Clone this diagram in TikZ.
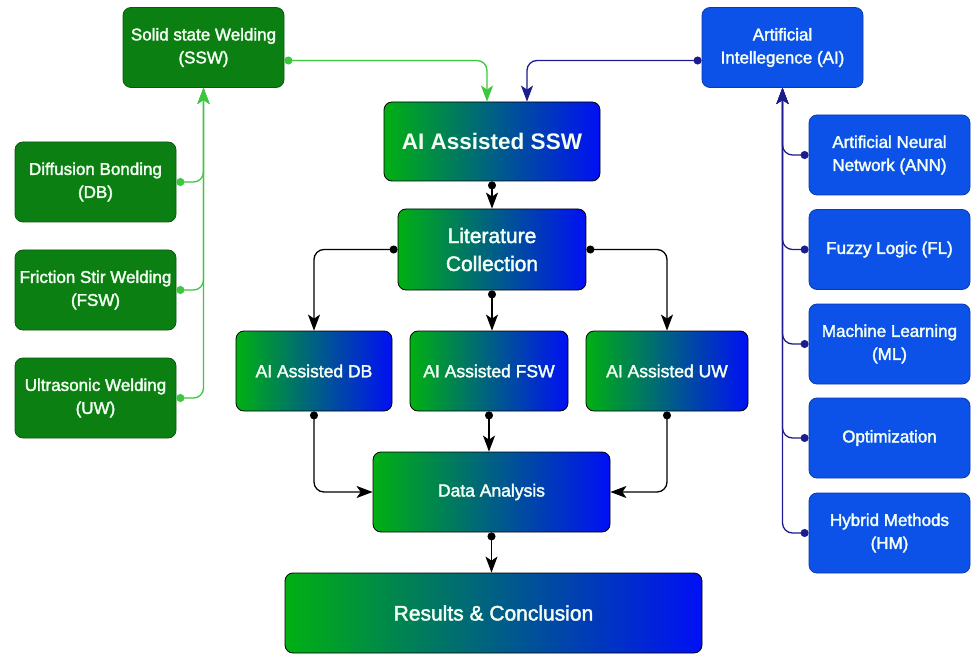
\documentclass[tikz,border=0pt]{standalone}
\usepackage{fontspec}
\setmainfont{Liberation Sans}
\newfontfamily\boxfont[FakeBold=2]{Liberation Sans}
\usetikzlibrary{arrows.meta,calc}
\definecolor{gfill}{HTML}{0C7F12}
\definecolor{gdraw}{HTML}{0A5A0E}
\definecolor{bfill}{HTML}{0D52E8}
\definecolor{bdraw}{HTML}{0A3BB0}
\definecolor{gradl}{HTML}{00B012}
\definecolor{gradr}{HTML}{0010F5}
\definecolor{gline}{HTML}{3CC83C}
\definecolor{nline}{HTML}{1C1C8C}
\definecolor{txt}{HTML}{F4FFF4}
\tikzset{
  base/.style={rounded corners=8pt, align=center, text=txt, inner sep=0pt, line width=0.8pt},
  gbox/.style={base, fill=gfill, draw=gdraw, minimum width=161pt, minimum height=80pt, font=\boxfont\fontsize{17}{23}\selectfont},
  bbox/.style={base, fill=bfill, draw=bdraw, minimum width=161pt, minimum height=80pt, font=\boxfont\fontsize{17}{23}\selectfont},
  gradbox/.style={base, left color=gradl, right color=gradr, draw=black, minimum height=80pt},
  conn/.style={line width=1.3pt, rounded corners=10pt, {Circle[length=8pt]}-{Stealth[length=16pt,width=12pt,inset=4pt]}},
  gconn/.style={conn, draw=gline},
  nconn/.style={conn, draw=nline},
  kconn/.style={conn, draw=black},
}
\begin{document}
\begin{tikzpicture}[x=1pt,y=-1pt]
\useasboundingbox[fill=white] (0,0) rectangle (972,655);
% left green
\node[gbox] (ssw) at (203.5,47.5) {Solid state Welding\\(SSW)};
\node[gbox] (db) at (95.5,182) {Diffusion Bonding\\(DB)};
\node[gbox] (fsw) at (95.5,290) {Friction Stir Welding\\(FSW)};
\node[gbox] (uw) at (95.5,398) {Ultrasonic Welding\\(UW)};
% right blue
\node[bbox] (ai) at (782.5,47.5) {Artificial\\Intellegence (AI)};
\node[bbox] (ann) at (889.5,155) {Artificial Neural\\Network (ANN)};
\node[bbox] (fl) at (889.5,249.5) {Fuzzy Logic (FL)};
\node[bbox] (ml) at (889.5,344) {Machine Learning\\(ML)};
\node[bbox] (opt) at (889.5,438) {Optimization};
\node[bbox] (hm) at (889.5,533) {Hybrid Methods\\(HM)};
% center
\node[gradbox, minimum width=216pt, minimum height=79pt, font=\bfseries\fontsize{22.5}{27}\selectfont] (aissw) at (492,141.5) {AI Assisted SSW};
\node[gradbox, minimum width=188pt, minimum height=81pt, font=\boxfont\fontsize{21}{28}\selectfont] (lit) at (492,249.5) {Literature\\Collection};
\node[gradbox, minimum width=156pt, font=\boxfont\fontsize{17.5}{21}\selectfont] (aidb) at (314,371) {AI Assisted DB};
\node[gradbox, minimum width=158pt, font=\boxfont\fontsize{17.5}{21}\selectfont] (aifsw) at (489,371) {AI Assisted FSW};
\node[gradbox, minimum width=162pt, font=\boxfont\fontsize{17.5}{21}\selectfont] (aiuw) at (667,371) {AI Assisted UW};
\node[gradbox, minimum width=237pt, font=\boxfont\fontsize{17.5}{21}\selectfont] (da) at (491.5,492) {Data Analysis};
\node[gradbox, minimum width=417pt, font=\boxfont\fontsize{21}{25}\selectfont] (res) at (493.5,613) {Results \& Conclusion};
% connectors
\draw[gconn] ([yshift=-13pt]ssw.east) -| ([xshift=-5pt]aissw.north);
\draw[nconn] ([yshift=-13pt]ai.west) -| ([xshift=35pt]aissw.north);
\foreach \n in {db,fsw,uw} \draw[gconn] (\n.east) -| (ssw.south);
\foreach \n in {ann,fl,ml,opt,hm} \draw[nconn] (\n.west) -| (ai.south);
\draw[kconn] (aissw.south) -- (lit.north);
\draw[kconn] (lit.west) -| (aidb.north);
\draw[kconn] (lit.east) -| (aiuw.north);
\draw[kconn] (lit.south) -- (lit.south |- aifsw.north);
\draw[kconn] (aidb.south) |- (da.west);
\draw[kconn] (aiuw.south) |- (da.east);
\draw[kconn] (aifsw.south) -- (aifsw.south |- da.north);
\draw[kconn] (da.south) -- (da.south |- res.north);
\end{tikzpicture}
\end{document}
